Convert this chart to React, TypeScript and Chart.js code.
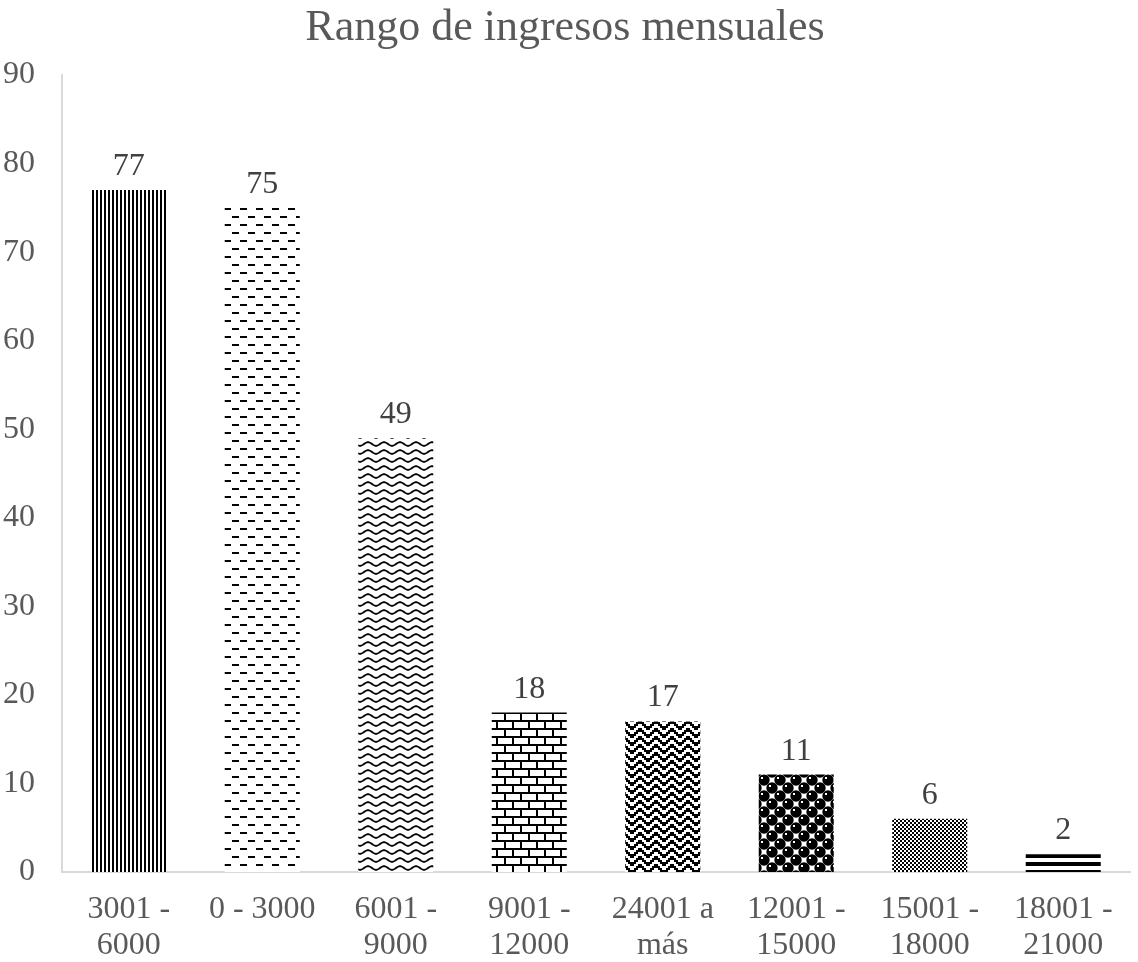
import React, { useEffect, useRef } from "react";
import { Chart, registerables } from "chart.js";

Chart.register(...registerables);

const categories: string[][] = [
  ["3001 -", "6000"],
  ["0 - 3000"],
  ["6001 -", "9000"],
  ["9001 -", "12000"],
  ["24001 a", "más"],
  ["12001 -", "15000"],
  ["15001 -", "18000"],
  ["18001 -", "21000"],
];
const values: number[] = [77, 75, 49, 18, 17, 11, 6, 2];
const yTicks: number[] = [0, 10, 20, 30, 40, 50, 60, 70, 80, 90];
const titleText = "Rango de ingresos mensuales";

const FONT = "'Liberation Serif', 'Times New Roman', serif";
const TEXT = "#595959";

function tile(w: number, h: number, draw: (c: CanvasRenderingContext2D) => void): CanvasPattern {
  const cv = document.createElement("canvas");
  cv.width = w;
  cv.height = h;
  const c = cv.getContext("2d")!;
  c.fillStyle = "#fff";
  c.fillRect(0, 0, w, h);
  c.fillStyle = "#000";
  c.strokeStyle = "#000";
  draw(c);
  return c.createPattern(cv, "repeat")!;
}

function makePatterns(): CanvasPattern[] {
  const vStripes = tile(4, 4, (c) => c.fillRect(0, 0, 2, 4));
  const dashes = tile(16, 16, (c) => {
    c.fillRect(0, 0, 7, 2);
    c.fillRect(8, 8, 7, 2);
  });
  const wave = tile(16, 8, (c) => {
    c.lineWidth = 1.8;
    c.beginPath();
    for (let x = -1; x <= 17; x += 0.5) {
      const y = 4 - 1.8 * Math.cos((2 * Math.PI * x) / 16);
      if (x === -1) c.moveTo(x, y);
      else c.lineTo(x, y);
    }
    c.stroke();
  });
  const brick = tile(16, 16, (c) => {
    c.fillRect(0, 0, 16, 2);
    c.fillRect(0, 8, 16, 2);
    c.fillRect(0, 2, 2, 6);
    c.fillRect(8, 10, 2, 6);
  });
  const zig = tile(16, 8, (c) => {
    const ys = [0, 1, 2, 3, 3, 2, 1, 0];
    for (let i = 0; i < 8; i++) {
      c.fillRect(i * 2, ys[i] * 2, 2, 2);
      c.fillRect(i * 2, ((ys[i] + 1) % 4) * 2, 2, 2);
    }
  });
  const sphere = tile(16, 16, (c) => {
    const centers = [
      [4, 4],
      [12, 12],
      [20, 4],
      [-4, 12],
      [4, 20],
      [12, -4],
      [20, 20],
      [-4, -4],
    ];
    for (const [x, y] of centers) {
      c.beginPath();
      c.arc(x, y, 5.7, 0, Math.PI * 2);
      c.fill();
    }
    c.fillStyle = "#fff";
    for (const [x, y] of centers) {
      c.fillRect(x - 3, y - 3, 2, 2);
    }
  });
  const checker = tile(4, 4, (c) => {
    c.fillRect(0, 0, 2, 2);
    c.fillRect(2, 2, 2, 2);
  });
  const hLines = tile(4, 8, (c) => {
    c.fillRect(0, 0, 4, 2);
    c.fillRect(0, 6, 4, 2);
  });
  return [vStripes, dashes, wave, brick, zig, sphere, checker, hLines];
}

const valueLabels = {
  id: "valueLabels",
  afterDatasetsDraw(chart: any) {
    const ctx = chart.ctx;
    const meta = chart.getDatasetMeta(0);
    ctx.save();
    ctx.font = `32px ${FONT}`;
    ctx.fillStyle = "#404040";
    ctx.textAlign = "center";
    ctx.textBaseline = "alphabetic";
    meta.data.forEach((bar: any, i: number) => {
      ctx.fillText(String(values[i]), bar.x, bar.y - 15);
    });
    ctx.restore();
  },
};

export default function App() {
  const ref = useRef<HTMLCanvasElement>(null);
  useEffect(() => {
    document.body.style.margin = "0";
    const chart = new Chart(ref.current!, {
      type: "bar",
      data: {
        labels: categories,
        datasets: [
          {
            data: values,
            backgroundColor: makePatterns(),
            borderWidth: 0,
            barPercentage: 0.562,
            categoryPercentage: 1,
          },
        ],
      },
      options: {
        responsive: false,
        animation: false,
        layout: { padding: { left: 0, right: 8, top: 0, bottom: 0 } },
        plugins: {
          legend: { display: false },
          tooltip: { enabled: false },
          title: {
            display: true,
            text: titleText,
            color: TEXT,
            font: { family: FONT, size: 44, weight: "normal", lineHeight: 1.2 },
            padding: { top: 1.6, bottom: 20.6 },
          },
        },
        scales: {
          x: {
            grid: { display: false, drawTicks: false },
            border: { display: true, color: "#d9d9d9", width: 2 },
            ticks: {
              color: TEXT,
              font: { family: FONT, size: 32, lineHeight: 1.12 },
              padding: 20,
              maxRotation: 0,
              autoSkip: false,
            },
            afterFit: (s: any) => {
              s.height = 90;
            },
          },
          y: {
            min: 0,
            max: 90,
            afterBuildTicks: (s: any) => {
              s.ticks = yTicks.map((v) => ({ value: v }));
            },
            grid: { display: false, drawTicks: false },
            border: { display: true, color: "#d9d9d9", width: 2 },
            ticks: {
              color: TEXT,
              font: { family: FONT, size: 32 },
              padding: 27,
            },
            afterFit: (s: any) => {
              s.width = 62;
            },
          },
        },
      },
      plugins: [valueLabels],
    });
    return () => chart.destroy();
  }, []);
  return (
    <div style={{ position: "absolute", left: 0, top: 0, width: 1138, height: 962 }}>
      <canvas ref={ref} width={1138} height={962} style={{ display: "block" }} />
    </div>
  );
}
